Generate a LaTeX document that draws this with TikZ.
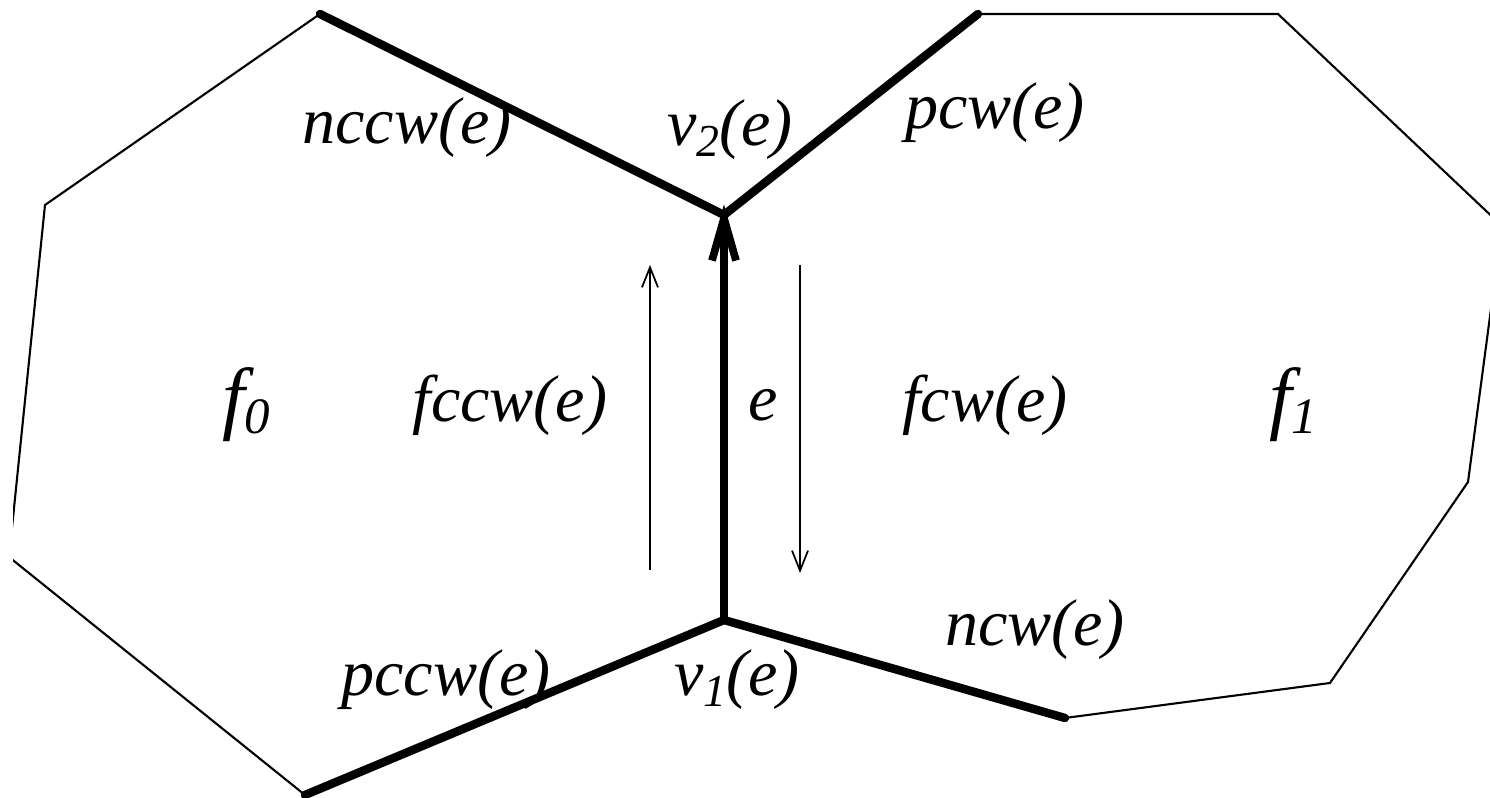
\documentclass[tikz,border=0pt]{standalone}
\usepackage{fontspec}
\setmainfont{Liberation Serif}
\usepackage{tikz}
\usetikzlibrary{arrows.meta, positioning}
\tikzset{
	thinedge/.style={draw, line width=0.6pt, line join=miter},
	thickedge/.style={draw, line width=2.4pt, line cap=round, line join=miter},
	lbl/.style={font=\itshape\fontsize{18.8}{22}\selectfont, inner sep=0pt},
	facelbl/.style={font=\itshape\fontsize{23}{26}\selectfont, inner sep=0pt},
	dirarrow/.style={draw, line width=0.5pt, -{Straight Barb[length=2mm, width=1.6mm]}},
	edgearrow/.style={thickedge, -{Straight Barb[length=4.2mm, width=2.4mm, line width=2.2pt]}}
}
\newcommand{\lsub}[1]{\raisebox{-3pt}{\fontsize{13}{13}\selectfont #1}}
\newcommand{\fsub}[1]{\raisebox{-2.5pt}{\fontsize{14.5}{14.5}\selectfont #1}}

\begin{document}
\begin{tikzpicture}[x=0.01cm, y=-0.01cm]
	\useasboundingbox (0,0) rectangle (1490,798);
	% Vertices
	\coordinate (v1) at (724,620);
	\coordinate (v2) at (724,215);
	\coordinate (L-1) at (320,14);
	\coordinate (L-2) at (45,205);
	\coordinate (L-3) at (9,557);
	\coordinate (L-4) at (305,795);
	\coordinate (R-1) at (978,14);
	\coordinate (R-2) at (1278,14);
	\coordinate (R-3) at (1502,226);
	\coordinate (R-4) at (1468,482);
	\coordinate (R-5) at (1330,683);
	\coordinate (R-6) at (1065,718);
	% Faces (cut at the edges of the picture)
	\begin{scope}
		\clip (13,0) rectangle (1490,798);
		\draw[thinedge] (L-1) -- (L-2) -- (L-3) -- (L-4);
		\draw[thinedge] (R-1) -- (R-2) -- (R-3) -- (R-4) -- (R-5) -- (R-6);
	\end{scope}
	% Wings of e
	\draw[thickedge] (L-1) -- (v2) -- (R-1);
	\draw[thickedge] (L-4) -- (v1) -- (R-6);
	\draw[edgearrow] (v1) -- ([yshift=3]v2);
	% Orientation arrows
	\coordinate (ccw-a) at (650,570);
	\coordinate (ccw-b) at (650,265);
	\coordinate (cw-a) at (800,265);
	\coordinate (cw-b) at (800,573);
	\draw[dirarrow] (ccw-a) -- (ccw-b);
	\draw[dirarrow] (cw-a) -- (cw-b);
	% Labels
	\node[lbl] (nccw) at (407,128) {nccw(e)};
	\node[lbl] (v2lbl) at (730,130) {v\lsub{2}(e)};
	\node[lbl] (pcw) at (995,113) {pcw(e)};
	\node[facelbl] (f0) at (246,405) {f\fsub{0}};
	\node[lbl] (fccw) at (510,405) {fccw(e)};
	\node[lbl] (elbl) at (763,405) {e};
	\node[lbl] (fcw) at (985,405) {fcw(e)};
	\node[facelbl] (f1) at (1293,405) {f\fsub{1}};
	\node[lbl] (ncw) at (1035,630) {ncw(e)};
	\node[lbl] (pccw) at (446,680) {pccw(e)};
	\node[lbl] (v1lbl) at (737,680) {v\lsub{1}(e)};
\end{tikzpicture}
\end{document}
